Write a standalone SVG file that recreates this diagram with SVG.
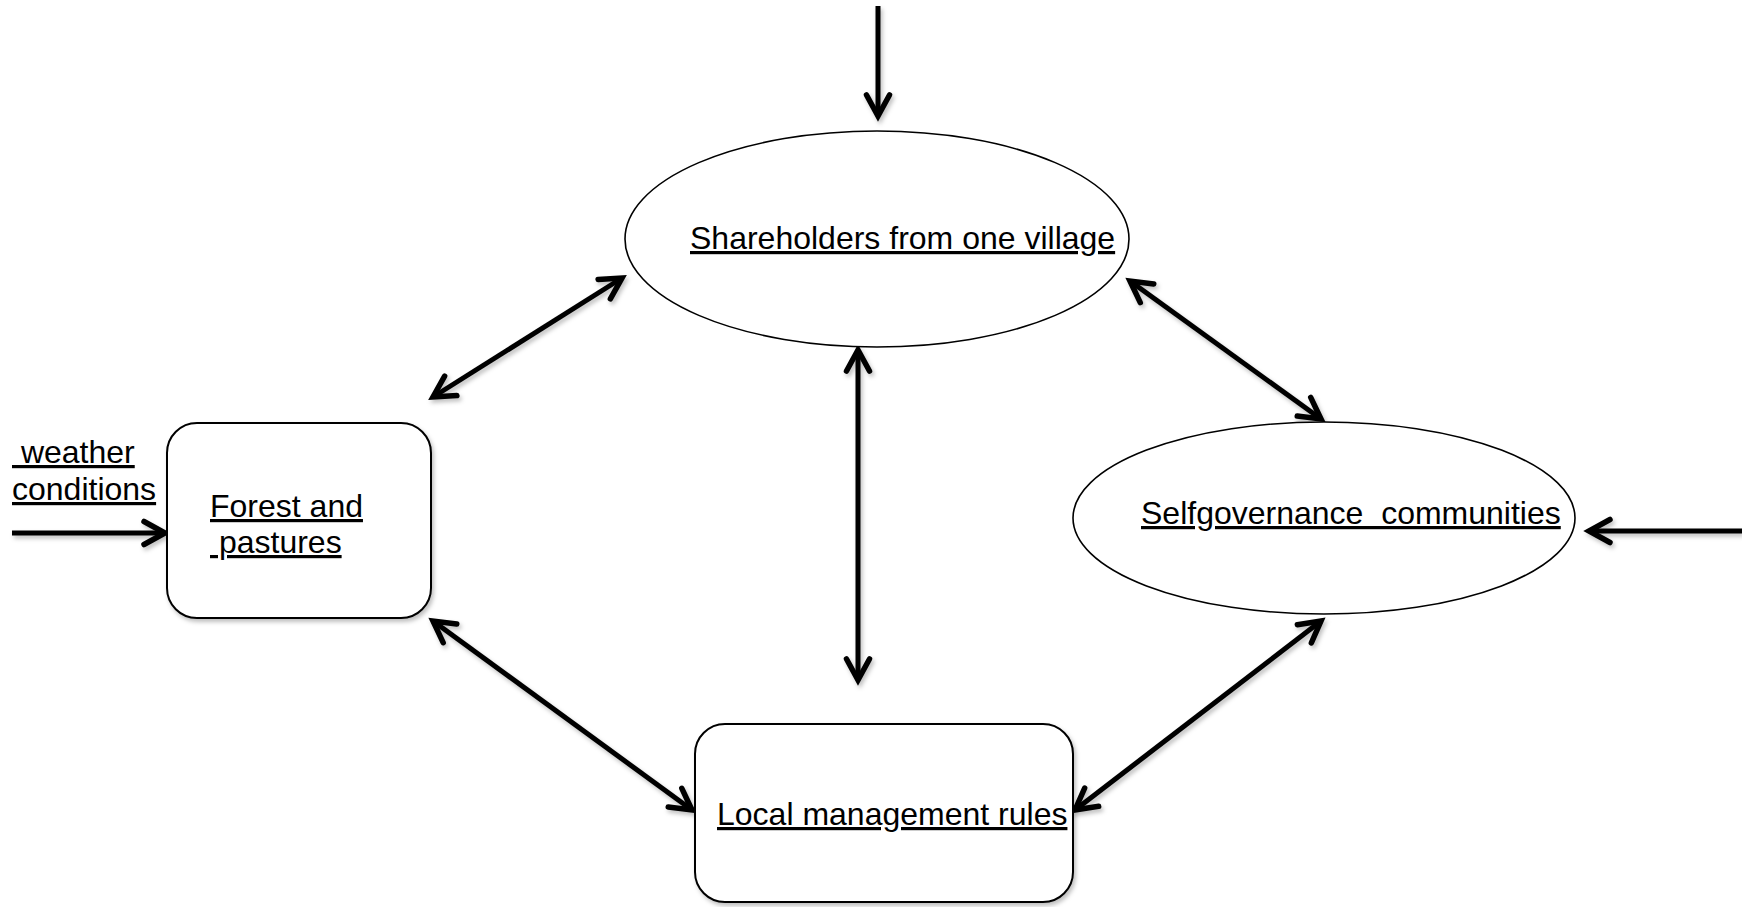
<svg xmlns="http://www.w3.org/2000/svg" width="1742" height="907" viewBox="0 0 1742 907">
<style>
  .lbl { font-family: "Liberation Sans", Arial, sans-serif; font-size: 32px; fill: #000; text-decoration: underline; text-decoration-skip-ink: none; text-decoration-thickness: 2.5px; text-underline-offset: 4px; white-space: pre; }
  .box { fill: #fff; stroke: #000; stroke-width: 2; }
  .ell { fill: #fff; stroke: #000; stroke-width: 1.6; }
  .arr { stroke: #000; stroke-width: 5; fill: none; }
</style>
<defs>
  <filter id="sh" x="-10%" y="-10%" width="130%" height="130%">
    <feDropShadow dx="2" dy="3" stdDeviation="2" flood-color="#000" flood-opacity="0.25"/>
  </filter>
  <marker id="ah" markerUnits="userSpaceOnUse" markerWidth="40" markerHeight="40" viewBox="-30 -20 40 40" refX="0" refY="0" orient="auto-start-reverse">
    <path d="M -21 -11.5 L 0 0 L -21 11.5" fill="none" stroke="#000" stroke-width="5.5" stroke-linecap="round" stroke-linejoin="miter"/>
  </marker>
</defs>
<g id="connectors" filter="url(#sh)">
  <line class="arr" x1="878" y1="6" x2="878" y2="116" marker-end="url(#ah)"/>
  <line class="arr" x1="622" y1="278" x2="433" y2="397" marker-start="url(#ah)" marker-end="url(#ah)"/>
  <line class="arr" x1="858" y1="350" x2="858" y2="680" marker-start="url(#ah)" marker-end="url(#ah)"/>
  <line class="arr" x1="1130" y1="281" x2="1321" y2="419" marker-start="url(#ah)" marker-end="url(#ah)"/>
  <line class="arr" x1="433" y1="621" x2="692" y2="810" marker-start="url(#ah)" marker-end="url(#ah)"/>
  <line class="arr" x1="1321" y1="621" x2="1075" y2="810" marker-start="url(#ah)" marker-end="url(#ah)"/>
  <line class="arr" x1="1742" y1="531" x2="1589" y2="531" marker-end="url(#ah)"/>
  <line class="arr" x1="12" y1="533" x2="165" y2="533" marker-end="url(#ah)"/>
</g>
<g id="shareholders">
  <ellipse class="ell" cx="877" cy="239" rx="252" ry="108"/>
  <text class="lbl" x="690" y="249">Shareholders from one village</text>
</g>
<g id="forest">
  <rect class="box" x="167" y="423" width="264" height="195" rx="30" ry="30" filter="url(#sh)"/>
  <text class="lbl" x="210" y="517">Forest and</text>
  <text class="lbl" x="210" y="553" xml:space="preserve"> pastures</text>
</g>
<g id="weather">
  <text class="lbl" x="12" y="463" xml:space="preserve"> weather</text>
  <text class="lbl" x="12" y="500">conditions</text>
</g>
<g id="selfgovernance">
  <ellipse class="ell" cx="1324" cy="518" rx="251" ry="96"/>
  <text class="lbl" x="1141" y="524" xml:space="preserve">Selfgovernance  communities</text>
</g>
<g id="local">
  <rect class="box" x="695" y="724" width="378" height="178" rx="30" ry="30" filter="url(#sh)"/>
  <text class="lbl" x="717" y="825">Local management rules</text>
</g>
</svg>
